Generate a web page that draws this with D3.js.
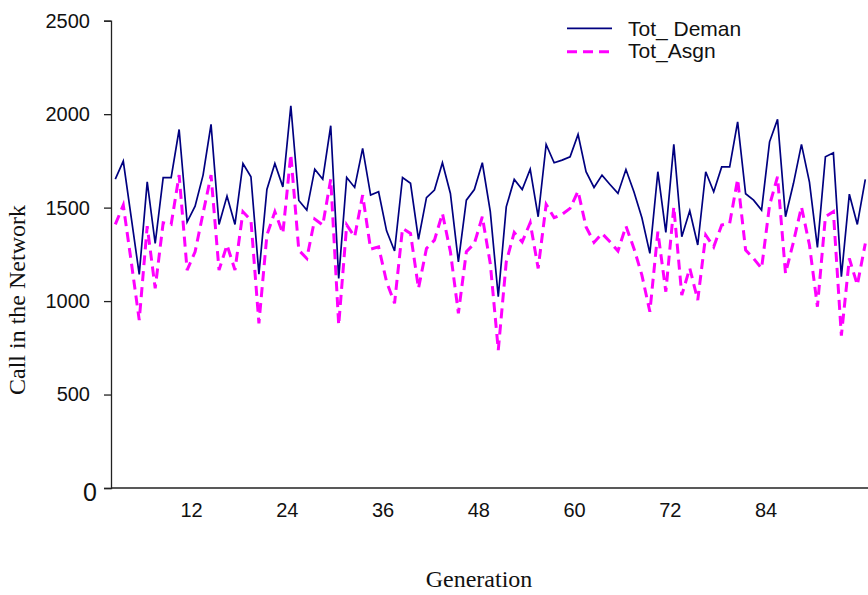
<!DOCTYPE html>
<html>
<head>
<meta charset="utf-8">
<script src="https://cdn.jsdelivr.net/npm/d3@7"></script>
<style>
  body { margin: 0; background: #fff; }
</style>
</head>
<body>
<div id="chart"></div>
<script>

// values, one per generation
var totDemand = [1652,1749,1446,1143,1638,1308,1661,1661,1918,1423,
  1508,1674,1945,1410,1562,1410,1736,1665,1144,1597,
  1736,1611,2045,1538,1487,1706,1652,1938,1121,1661,
  1608,1817,1567,1585,1376,1268,1661,1630,1330,1553,
  1594,1740,1576,1210,1540,1597,1740,1478,1023,1504,
  1651,1597,1706,1451,1838,1740,1754,1772,1892,1692,
  1608,1674,1624,1576,1704,1585,1446,1255,1692,1367,
  1838,1344,1483,1300,1692,1585,1718,1718,1959,1574,
  1540,1487,1852,1972,1451,1630,1838,1636,1287,1772,
  1793,1130,1572,1410,1651];

var totAssigned = [1410,1513,1210,898,1401,1068,1419,1410,1674,1166,
  1264,1470,1674,1166,1300,1166,1478,1433,881,1353,
  1478,1362,1785,1272,1228,1439,1407,1652,872,1407,
  1344,1567,1278,1290,1103,988,1389,1362,1068,1282,
  1326,1469,1264,934,1264,1308,1451,1200,738,1210,
  1367,1317,1419,1175,1517,1446,1464,1496,1588,1397,
  1314,1362,1317,1268,1401,1282,1139,943,1371,1050,
  1504,1032,1176,1005,1353,1290,1407,1416,1652,1273,
  1228,1175,1513,1665,1148,1317,1504,1300,970,1451,
  1478,815,1228,1086,1308];

var seriesNames = ["Tot_ Deman", "Tot_Asgn"];
var xTickLabels = [12, 24, 36, 48, 60, 72, 84];
var yTickLabels = [0, 500, 1000, 1500, 2000, 2500];

var width = 868, height = 595;

var svg = d3.select("#chart")
  .append("svg")
    .attr("width", width)
    .attr("height", height)
    .style("background", "#fff");

// scales
var x = d3.scaleLinear()
  .domain([1, totDemand.length])
  .range([115.3, 865.3]);

var y = d3.scaleLinear()
  .domain([0, 2500])
  .range([488, 20.7]);

// in the source the labels sit a bit left of their point
var labelShift = 1.5;

// x axis
var xAxis = svg.append("g")
  .attr("transform", "translate(0," + y(0) + ")")
  .call(d3.axisBottom(x)
    .tickValues(xTickLabels.map(function (d) { return d - labelShift; }))
    .tickFormat(function (d) { return d + labelShift; })
    .tickSize(0)
    .tickPadding(15));
xAxis.select(".domain")
  .attr("d", "M111,0H" + width)
  .attr("stroke", "#222")
  .attr("stroke-width", 1.3);
xAxis.selectAll("text")
  .attr("fill", "#111")
  .style("font-family", "'Liberation Sans', Arial, sans-serif")
  .style("font-size", "20px");

// y axis
var yAxis = svg.append("g")
  .attr("transform", "translate(111,0)")
  .call(d3.axisLeft(y)
    .tickValues(yTickLabels)
    .tickFormat(d3.format("d"))
    .tickSizeOuter(0)
    .tickSize(7)
    .tickPadding(14));
yAxis.select(".domain")
  .attr("stroke", "#222")
  .attr("stroke-width", 1.3);
yAxis.selectAll("line")
  .attr("stroke", "#222")
  .attr("stroke-width", 1.3);
yAxis.selectAll("text")
  .attr("fill", "#111")
  .style("font-family", "'Liberation Sans', Arial, sans-serif")
  .style("font-size", "20px");
// the zero label is drawn bigger
yAxis.selectAll(".tick text")
  .filter(function (d) { return d === 0; })
  .style("font-size", "25px")
  .attr("dx", 7)
  .attr("dy", "0.48em");

// lines
var line = function (values) {
  return d3.line()
    .x(function (d, i) { return x(i + 1); })
    .y(function (d) { return y(d); })(values);
};

svg.append("path")
  .attr("d", line(totAssigned))
  .attr("fill", "none")
  .attr("stroke", "#ff00ff")
  .attr("stroke-width", 3)
  .attr("stroke-dasharray", "10,6");

svg.append("path")
  .attr("d", line(totDemand))
  .attr("fill", "none")
  .attr("stroke", "#000080")
  .attr("stroke-width", 1.7)
  .attr("stroke-linejoin", "miter");

// legend
var legend = svg.append("g");
legend.append("line")
  .attr("x1", 567).attr("x2", 612)
  .attr("y1", 28.3).attr("y2", 28.3)
  .attr("stroke", "#000080")
  .attr("stroke-width", 1.7);
legend.append("line")
  .attr("x1", 567).attr("x2", 612)
  .attr("y1", 51.7).attr("y2", 51.7)
  .attr("stroke", "#ff00ff")
  .attr("stroke-width", 3)
  .attr("stroke-dasharray", "10,6");
legend.selectAll("text")
  .data(seriesNames)
  .enter()
  .append("text")
    .attr("x", 628)
    .attr("y", function (d, i) { return i === 0 ? 35.7 : 58.3; })
    .attr("fill", "#111")
    .style("font-family", "'Liberation Sans', Arial, sans-serif")
    .style("font-size", "21px")
    .text(function (d) { return d; });

// axis titles
svg.append("text")
  .attr("x", 479)
  .attr("y", 587)
  .attr("text-anchor", "middle")
  .attr("fill", "#111")
  .style("font-family", "'Liberation Serif', 'Times New Roman', serif")
  .style("font-size", "24px")
  .text("Generation");

svg.append("text")
  .attr("transform", "translate(25,300) rotate(-90)")
  .attr("text-anchor", "middle")
  .attr("fill", "#111")
  .style("font-family", "'Liberation Serif', 'Times New Roman', serif")
  .style("font-size", "24px")
  .text("Call in the Network");

</script>
</body>
</html>
